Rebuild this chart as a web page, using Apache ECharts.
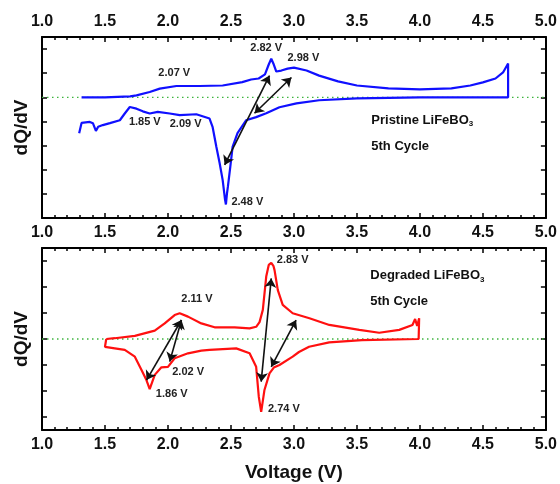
<!DOCTYPE html>
<html>
<head>
<meta charset="utf-8">
<script src="https://cdn.jsdelivr.net/npm/echarts@6/dist/echarts.min.js"></script>
<style>
  html, body { margin: 0; padding: 0; background: #fff; }
  #main { width: 560px; height: 484px; }
</style>
</head>
<body>
<div id="main"></div>
<script>
// Pristine LiFeBO3, 5th cycle (charge up to 4.7 V, then discharge back)
var pristineV = [1.314, 1.5, 1.7, 1.75, 1.855, 1.935, 2.067, 2.25, 2.434, 2.59, 2.66, 2.72, 2.77, 2.8, 2.82, 2.84, 2.86, 2.9, 2.95, 3.0,
  3.1, 3.2, 3.35, 3.5, 3.75, 4.0, 4.25, 4.4, 4.5, 4.6, 4.66, 4.7, 4.7,
  4.5, 4.0, 3.5, 3.2, 3.02, 2.885, 2.78, 2.7, 2.62, 2.552, 2.513, 2.495, 2.476, 2.468, 2.46, 2.452, 2.434, 2.41, 2.384, 2.354, 2.33,
  2.225, 2.093, 2.014, 1.919, 1.855, 1.8, 1.75, 1.697, 1.657, 1.618, 1.539, 1.483, 1.446, 1.428, 1.404, 1.38, 1.314, 1.295];
var pristineDq = [0, 0, 0.04, 0.08, 0.22, 0.36, 0.47, 0.47, 0.49, 0.63, 0.74, 0.78, 0.95, 1.36, 1.6, 1.36, 1.07, 1.11, 1.19, 1.23,
  1.11, 0.9, 0.66, 0.49, 0.37, 0.33, 0.37, 0.49, 0.62, 0.78, 1.03, 1.4, 0,
  0, 0, -0.04, -0.12, -0.25, -0.41, -0.66, -0.82, -0.95, -1.48, -2.05, -2.87, -3.69, -4.0, -4.44, -4.2, -3.42, -2.72, -2.05, -1.22, -0.88,
  -0.7, -0.74, -0.67, -0.6, -0.67, -0.58, -0.47, -0.4, -0.67, -0.95, -1.07, -1.15, -1.22, -1.39, -1.07, -1.02, -1.06, -1.49];

// Degraded LiFeBO3, 5th cycle (1.5 V .. 4.0 V loop)
var degradedV = [1.51, 1.578, 1.737, 1.895, 1.974, 2.053, 2.093, 2.159, 2.265, 2.37, 2.529, 2.648, 2.7, 2.727, 2.753, 2.78, 2.8, 2.82, 2.838, 2.846,
  2.872, 2.911, 2.99, 3.123, 3.281, 3.519, 3.677, 3.836, 3.941, 3.962, 3.978, 3.994, 3.99,
  3.54, 3.28, 3.12, 3.04, 2.99, 2.885, 2.84, 2.806, 2.766, 2.74, 2.721, 2.7, 2.648, 2.542, 2.33, 2.265, 2.159, 2.053, 2.0, 1.948,
  1.895, 1.855, 1.829, 1.79, 1.737, 1.657, 1.578, 1.5, 1.51];
var degradedDq = [0, 0.03, 0.12, 0.32, 0.6, 0.92, 0.99, 0.86, 0.6, 0.45, 0.45, 0.41, 0.47, 0.65, 1.12, 2.4, 2.85, 2.93, 2.8, 2.65,
  1.88, 1.31, 0.99, 0.8, 0.54, 0.35, 0.24, 0.35, 0.54, 0.77, 0.5, 0.8, 0,
  -0.04, -0.13, -0.3, -0.5, -0.68, -1.0, -1.1, -1.32, -1.96, -2.8, -2.22, -1.07, -0.55, -0.36, -0.42, -0.45, -0.55, -0.74, -1.07, -1.09,
  -1.38, -1.93, -1.58, -1.19, -0.68, -0.42, -0.36, -0.3, 0];

// dotted zero reference line
var zeroV = [1, 5];
var zeroDq = [0, 0];

var topYTicks = [-4, -3, -2, -1, 0, 1, 2];
var botYTicks = [-3, -2, -1, 0, 1, 2, 3];

// peak labels: [voltage, dQ/dV, text]
var pristineLabels = [[2.05, 0.99, '2.07 V'], [2.78, 2.06, '2.82 V'], [3.075, 1.65, '2.98 V'],
  [1.816, -1.03, '1.85 V'], [2.14, -1.11, '2.09 V'], [2.63, -4.32, '2.48 V']];
var degradedLabels = [[2.23, 1.54, '2.11 V'], [2.16, -1.27, '2.02 V'], [2.03, -2.1, '1.86 V'],
  [2.99, 3.04, '2.83 V'], [2.92, -2.7, '2.74 V']];
// arrows: [x1, y1, x2, y2]
var pristineArrows = [[2.45, -2.8, 2.806, 0.9], [2.687, -0.66, 2.98, 0.82]];
var degradedArrows = [[1.83, -1.58, 2.107, 0.73], [2.107, 0.73, 2.014, -0.87], [2.82, 2.33, 2.74, -1.64], [3.017, 0.73, 2.82, -1.07]];

function zip(a, b) {
  var out = [];
  for (var i = 0; i < a.length; i++) {
    out.push([a[i], b[i]]);
  }
  return out;
}

var fontFam = '"Liberation Sans", Arial, sans-serif';

function xAxisOf(grid, pos, showLabel, name) {
  return {
    type: 'value', gridIndex: grid, position: pos, min: 1, max: 5, interval: 0.5,
    name: name || '', nameLocation: 'middle', nameGap: 33,
    nameTextStyle: { fontSize: 19, fontWeight: 'bold', color: '#111', fontFamily: fontFam },
    axisLine: { onZero: false, lineStyle: { color: '#000', width: 2 } },
    axisTick: { inside: true, length: 5, lineStyle: { color: '#000', width: 1.5 } },
    minorTick: { show: true, splitNumber: 5, length: 3, lineStyle: { color: '#000', width: 1.5 } },
    splitLine: { show: false },
    axisLabel: {
      show: showLabel, margin: 7, fontSize: 16, fontWeight: 'bold', color: '#111', fontFamily: fontFam,
      formatter: function (v) { return v.toFixed(1); }
    }
  };
}

function yAxisOf(grid, pos, min, max, ticks, name) {
  return {
    type: 'value', gridIndex: grid, position: pos, min: min, max: max, interval: 0.5,
    name: name || '', nameLocation: 'middle', nameGap: 11,
    nameTextStyle: { fontSize: 19, fontWeight: 'bold', color: '#111', fontFamily: fontFam },
    axisLine: { show: true, onZero: false, lineStyle: { color: '#000', width: 2 } },
    axisTick: { inside: true, length: 5, customValues: ticks, lineStyle: { color: '#000', width: 1.5 } },
    splitLine: { show: false },
    axisLabel: { show: false }
  };
}

function labelPoints(list) {
  var out = [];
  for (var i = 0; i < list.length; i++) {
    out.push({ coord: [list[i][0], list[i][1]], value: list[i][2] });
  }
  return out;
}

function arrowLines(list) {
  var out = [];
  for (var i = 0; i < list.length; i++) {
    out.push([{ coord: [list[i][0], list[i][1]] }, { coord: [list[i][2], list[i][3]] }]);
  }
  return out;
}

function boxText(v, y, name, gap) {
  return [
    { coord: [v, y], value: name, label: { formatter: '{a|' + name + ' LiFeBO}{s|3}' } },
    { coord: [v, y - gap], value: '5th Cycle', label: { formatter: '{a|5th Cycle}' } }
  ];
}

var richText = {
  a: { fontSize: 13, fontWeight: 'bold', color: '#111', fontFamily: fontFam, lineHeight: 16 },
  s: { fontSize: 8, fontWeight: 'bold', color: '#111', fontFamily: fontFam, lineHeight: 16, verticalAlign: 'bottom', padding: [8, 0, 0, 0] }
};

function zeroSeries(xi, yi, boxData) {
  return {
    type: 'line', xAxisIndex: xi, yAxisIndex: yi, data: zip(zeroV, zeroDq), silent: true, z: 1,
    showSymbol: false,
    lineStyle: { type: [1.5, 3.5], color: '#3cb43c', width: 1.3 },
    markPoint: {
      silent: true, symbol: 'circle', symbolSize: 0,
      label: { show: true, position: 'right', distance: 0, rich: richText },
      data: boxData
    }
  };
}

var chart = echarts.init(document.getElementById('main'));
chart.setOption({
  animation: false,
  backgroundColor: '#fff',
  grid: [
    { left: 42, right: 13, top: 37, height: 181 },
    { left: 42, right: 13, top: 248, height: 182 }
  ],
  xAxis: [
    xAxisOf(0, 'top', true),
    xAxisOf(0, 'bottom', true),
    xAxisOf(1, 'top', false),
    xAxisOf(1, 'bottom', true, 'Voltage (V)')
  ],
  yAxis: [
    yAxisOf(0, 'left', -5, 2.5, topYTicks, 'dQ/dV'),
    yAxisOf(0, 'right', -5, 2.5, topYTicks),
    yAxisOf(1, 'left', -3.5, 3.5, botYTicks, 'dQ/dV'),
    yAxisOf(1, 'right', -3.5, 3.5, botYTicks)
  ],
  series: [
    zeroSeries(1, 0, boxText(3.614, -0.95, 'Pristine', 1.07)),
    zeroSeries(3, 2, boxText(3.606, 2.45, 'Degraded', 1.0)),
    {
      type: 'line', xAxisIndex: 1, yAxisIndex: 0, data: zip(pristineV, pristineDq),
      showSymbol: false, lineStyle: { color: '#1010ff', width: 2.2 }, z: 3,
      markLine: {
        silent: true, symbol: ['arrow', 'arrow'], symbolSize: 9, label: { show: false },
        lineStyle: { color: '#111', width: 1.6, type: 'solid' },
        data: arrowLines(pristineArrows)
      },
      markPoint: {
        silent: true, symbol: 'circle', symbolSize: 0,
        label: { show: true, position: 'inside', formatter: '{c}', fontSize: 11, fontWeight: 'bold', color: '#222', fontFamily: fontFam },
        data: labelPoints(pristineLabels)
      }
    },
    {
      type: 'line', xAxisIndex: 3, yAxisIndex: 2, data: zip(degradedV, degradedDq),
      showSymbol: false, lineStyle: { color: '#ff1010', width: 2.2 }, z: 3,
      markLine: {
        silent: true, symbol: ['arrow', 'arrow'], symbolSize: 9, label: { show: false },
        lineStyle: { color: '#111', width: 1.6, type: 'solid' },
        data: arrowLines(degradedArrows)
      },
      markPoint: {
        silent: true, symbol: 'circle', symbolSize: 0,
        label: { show: true, position: 'inside', formatter: '{c}', fontSize: 11, fontWeight: 'bold', color: '#222', fontFamily: fontFam },
        data: labelPoints(degradedLabels)
      }
    }
  ]
});
</script>
</body>
</html>
